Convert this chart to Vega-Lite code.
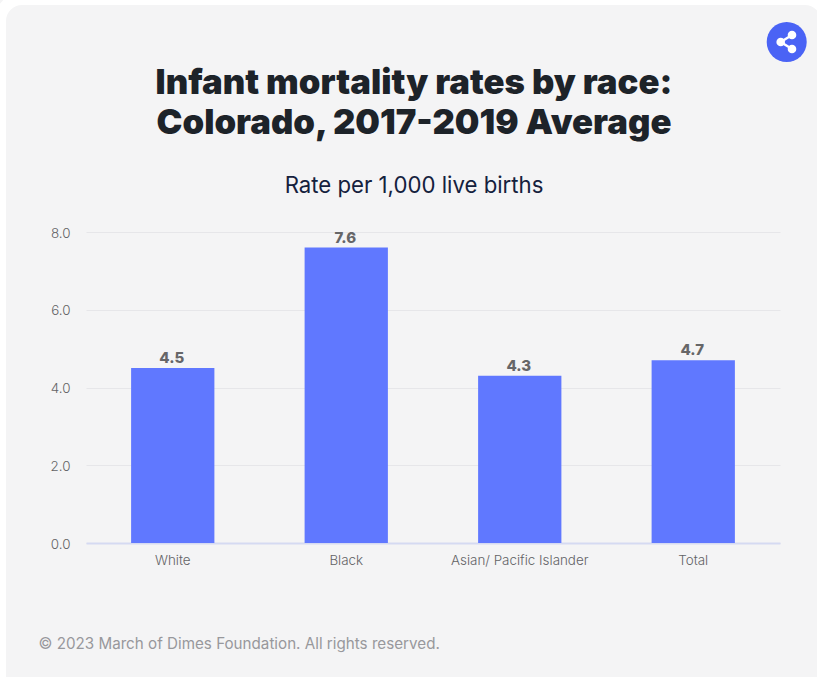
{
  "$schema": "https://vega.github.io/schema/vega-lite/v6.json",
  "width": 694,
  "height": 311,
  "autosize": "none",
  "padding": {"left": 86, "top": 232, "right": 37, "bottom": 134},
  "background": "#f4f4f5",
  "title": {
    "text": ["Infant mortality rates by race:", "Colorado, 2017-2019 Average"],
    "subtitle": "Rate per 1,000 live births",
    "anchor": "middle",
    "dx": -19,
    "offset": -205,
    "font": "Inter",
    "fontSize": 34.7,
    "fontWeight": 900,
    "lineHeight": 40,
    "color": "#1d2329",
    "subtitleFont": "Inter",
    "subtitleFontSize": 22.2,
    "subtitleFontWeight": 400,
    "subtitleColor": "#14213d",
    "subtitlePadding": 33
  },
  "config": {"view": {"stroke": null}},
  "layer": [
    {
      "data": {"values": [
        {"race": "White", "rate": 4.5},
        {"race": "Black", "rate": 7.6},
        {"race": "Asian/ Pacific Islander", "rate": 4.3},
        {"race": "Total", "rate": 4.7}
      ]},
      "encoding": {
        "x": {
          "field": "race",
          "type": "nominal",
          "sort": null,
          "scale": {"paddingInner": 0.52, "paddingOuter": 0.26},
          "axis": {
            "title": "© 2023 March of Dimes Foundation. All rights reserved.",
            "titleFont": "Inter",
            "titleFontSize": 15.2,
            "titleFontWeight": 400,
            "titleColor": "#98989c",
            "titleAlign": "left",
            "titleAnchor": "start",
            "titleX": -48,
            "titleY": 93,
            "labelAngle": 0,
            "labelFont": "Inter",
            "labelFontSize": 13.4,
            "labelFontWeight": 300,
            "labelColor": "#636366",
            "labelPadding": 10,
            "ticks": false,
            "domainColor": "#d5daf2",
            "domainWidth": 2
          }
        },
        "y": {
          "field": "rate",
          "type": "quantitative",
          "scale": {"domain": [0, 8]},
          "axis": {
            "title": null,
            "values": [0, 2, 4, 6, 8],
            "format": ".1f",
            "labelFont": "Inter",
            "labelFontSize": 13.4,
            "labelFontWeight": 300,
            "labelColor": "#636366",
            "labelPadding": 16,
            "labelOffset": 1,
            "ticks": false,
            "domain": false,
            "grid": true,
            "gridColor": "#e6e6e9"
          }
        }
      },
      "layer": [
        {"mark": {"type": "bar", "color": "#6078ff"}},
        {
          "mark": {
            "type": "text",
            "baseline": "bottom",
            "dy": -2,
            "dx": -1,
            "font": "Inter",
            "fontSize": 15,
            "fontWeight": 800,
            "color": "#666668"
          },
          "encoding": {"text": {"field": "rate", "type": "quantitative", "format": ".1f"}}
        }
      ]
    },
    {
      "description": "White surround that rounds the corners of the grey card",
      "data": {"values": [{"part": "card edge"}]},
      "mark": {
        "type": "rect",
        "filled": false,
        "stroke": "#ffffff",
        "strokeWidth": 12,
        "cornerRadius": 22,
        "clip": false
      },
      "encoding": {
        "x": {"value": -86},
        "x2": {"value": 741},
        "y": {"value": -233},
        "y2": {"value": 490}
      }
    },
    {
      "description": "Share button in the card's top corner",
      "data": {"values": [{"part": "share button"}]},
      "layer": [
        {
          "mark": {"type": "point", "shape": "circle", "filled": true, "size": 1600, "color": "#4a63f5", "opacity": 1, "clip": false},
          "encoding": {"x": {"value": 700.7}, "y": {"value": -190}}
        },
        {
          "mark": {"type": "rule", "color": "#ffffff", "strokeWidth": 2.5},
          "encoding": {"x": {"value": 694.7}, "x2": {"value": 706}, "y": {"value": -190}, "y2": {"value": -197}}
        },
        {
          "mark": {"type": "rule", "color": "#ffffff", "strokeWidth": 2.5},
          "encoding": {"x": {"value": 694.7}, "x2": {"value": 706}, "y": {"value": -190}, "y2": {"value": -183}}
        },
        {
          "mark": {"type": "point", "shape": "circle", "filled": true, "size": 74, "color": "#ffffff", "opacity": 1},
          "encoding": {"x": {"value": 694.7}, "y": {"value": -190}}
        },
        {
          "mark": {"type": "point", "shape": "circle", "filled": true, "size": 74, "color": "#ffffff", "opacity": 1},
          "encoding": {"x": {"value": 706}, "y": {"value": -197}}
        },
        {
          "mark": {"type": "point", "shape": "circle", "filled": true, "size": 74, "color": "#ffffff", "opacity": 1},
          "encoding": {"x": {"value": 706}, "y": {"value": -183}}
        }
      ]
    }
  ]
}
